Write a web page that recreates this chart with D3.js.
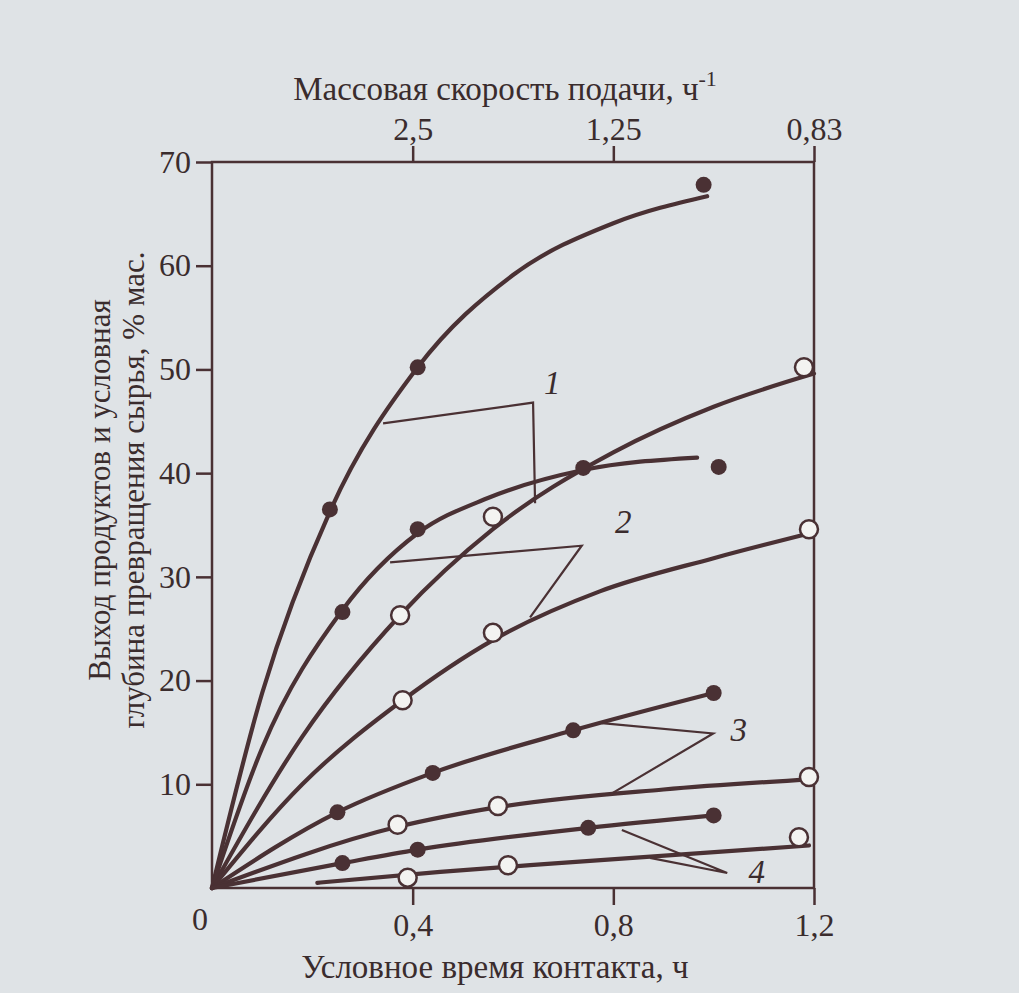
<!DOCTYPE html>
<html>
<head>
<meta charset="utf-8">
<script src="https://cdn.jsdelivr.net/npm/d3@7"></script>
<style>
  body { margin: 0; background: #dfe3e6; }
  svg text { font-family: "Liberation Serif", "DejaVu Serif", serif; fill: #3a2c2d; }
</style>
</head>
<body>
<div id="chart"></div>
<script>
// axis ticks
var timeTicks = [0.4, 0.8, 1.2];
var timeLabels = ["0,4", "0,8", "1,2"];
var speedTicks = [2.5, 1.25, 0.83];
var speedLabels = ["2,5", "1,25", "0,83"];
var yTicks = [10, 20, 30, 40, 50, 60, 70];

// curves, [contact time h, % mass]
var curve1 = [[0,0],[0.1,18.8],[0.235,36.3],[0.41,50.2],[0.6,59.1],[0.8,64.1],[0.987,66.7]];
var curve1open = [[0,0],[0.18,14.6],[0.375,26.3],[0.56,34.6],[0.8,42],[1.0,46.4],[1.2,49.6]];
var curve2 = [[0,0],[0.1,13.5],[0.26,26.8],[0.41,34.2],[0.55,37.6],[0.74,40.3],[0.967,41.5]];
var curve2open = [[0,0],[0.18,10],[0.38,18.1],[0.56,23.9],[0.773,28.6],[1.0,31.8],[1.2,34.3]];
var curve3 = [[0,0],[0.25,7.3],[0.44,11.1],[0.72,15.2],[1.0,18.8]];
var curve3open = [[0,0],[0.37,5.9],[0.57,7.8],[0.9,9.5],[1.2,10.5]];
var curve4 = [[0,0],[0.26,2.4],[0.41,3.7],[0.75,5.8],[1.0,7.0]];
var curve4open = [[0.21,0.5],[0.455,1.55],[0.69,2.4],[1.19,4.1]];

// measured points
var filledPts = [[0.235,36.5],[0.41,50.2],[0.98,67.8],
                 [0.26,26.6],[0.41,34.6],[0.74,40.5],[1.01,40.6],
                 [0.25,7.3],[0.44,11.1],[0.72,15.2],[1.0,18.8],
                 [0.26,2.4],[0.41,3.7],[0.75,5.8],[1.0,7.0]];
var openPts = [[0.375,26.3],[0.56,35.8],[1.18,50.2],
               [0.38,18.1],[0.56,24.6],[1.19,34.6],
               [0.37,6.1],[0.57,7.9],[1.19,10.7],
               [0.39,1.0],[0.59,2.2],[1.17,4.9]];

// curve numbers and their leader lines
var labelNames = ["1", "2", "3", "4"];
var labelPos = [[0.678,47.6],[0.82,34.2],[1.05,14.2],[1.086,0.5]];
var leaders = [
  [[0.341,44.8],[0.64,46.8],[0.644,37.1]],
  [[0.355,31.4],[0.737,33.0],[0.634,26.1]],
  [[0.777,15.9],[0.999,14.9],[0.793,9.0]],
  [[0.817,5.6],[1.027,1.45],[0.873,2.9]]
];

var ink = "#4a3134";
var width = 1019, height = 993;

var svg = d3.select("#chart")
  .append("svg")
    .attr("width", width)
    .attr("height", height);

var x = d3.scaleLinear()
  .domain([0, 1.2])
  .range([212, 814]);

var y = d3.scaleLinear()
  .domain([0, 70])
  .range([888, 162]);

// frame
svg.append("rect")
  .attr("x", x(0))
  .attr("y", y(70))
  .attr("width", x(1.2) - x(0))
  .attr("height", y(0) - y(70))
  .attr("fill", "none")
  .attr("stroke", ink)
  .attr("stroke-width", 2.5);

function styleAxis(g) {
  g.select(".domain").remove();
  g.selectAll("line").attr("stroke", ink).attr("stroke-width", 2.5);
  g.selectAll("text").style("font-size", "32px").attr("fill", "#3a2c2d");
}

// bottom axis
svg.append("g")
  .attr("transform", "translate(0," + y(0) + ")")
  .call(d3.axisBottom(x)
    .tickValues(timeTicks)
    .tickFormat(function(d, i) { return timeLabels[i]; })
    .tickSize(17)
    .tickPadding(8))
  .call(styleAxis);

svg.append("text")
  .attr("x", x(0) - 12)
  .attr("y", y(0) + 42)
  .attr("text-anchor", "middle")
  .style("font-size", "32px")
  .text("0");

// top axis, feed rate = 1 / contact time
svg.append("g")
  .attr("transform", "translate(0," + y(70) + ")")
  .call(d3.axisTop(x)
    .tickValues(speedTicks.map(function(s) { return +(1 / s).toFixed(1); }))
    .tickFormat(function(d, i) { return speedLabels[i]; })
    .tickSize(16)
    .tickPadding(6))
  .call(styleAxis);

// left axis
svg.append("g")
  .attr("transform", "translate(" + x(0) + ",0)")
  .call(d3.axisLeft(y)
    .tickValues(yTicks)
    .tickSize(16)
    .tickPadding(5))
  .call(styleAxis);

// axis titles
var topTitle = svg.append("text")
  .attr("x", 505)
  .attr("y", 100)
  .attr("text-anchor", "middle")
  .style("font-size", "33px");
topTitle.append("tspan").text("Массовая скорость подачи, ч");
topTitle.append("tspan")
  .attr("dy", -14)
  .style("font-size", "22px")
  .text("-1");

svg.append("text")
  .attr("x", 495)
  .attr("y", 978)
  .attr("text-anchor", "middle")
  .style("font-size", "33px")
  .text("Условное время контакта, ч");

var yTitle = svg.append("text")
  .attr("transform", "translate(110,490) rotate(-90)")
  .attr("text-anchor", "middle")
  .style("font-size", "31px");
yTitle.append("tspan").attr("x", 0).attr("dy", 0).text("Выход продуктов и условная");
yTitle.append("tspan").attr("x", 0).attr("dy", 34).text("глубина превращения сырья, % мас.");

// curves
var line = d3.line()
  .x(function(d) { return x(d[0]); })
  .y(function(d) { return y(d[1]); })
  .curve(d3.curveMonotoneX);

var allCurves = [curve1, curve1open, curve2, curve2open, curve3, curve3open, curve4, curve4open];
svg.selectAll(".curve")
  .data(allCurves)
  .enter()
  .append("path")
    .attr("class", "curve")
    .attr("fill", "none")
    .attr("stroke", ink)
    .attr("stroke-width", 4.2)
    .attr("stroke-linecap", "round")
    .attr("d", line);

// leader lines
var straight = d3.line()
  .x(function(d) { return x(d[0]); })
  .y(function(d) { return y(d[1]); });

svg.selectAll(".leader")
  .data(leaders)
  .enter()
  .append("path")
    .attr("class", "leader")
    .attr("fill", "none")
    .attr("stroke", ink)
    .attr("stroke-width", 2.2)
    .attr("d", straight);

svg.selectAll(".num")
  .data(labelNames)
  .enter()
  .append("text")
    .attr("class", "num")
    .attr("x", function(d, i) { return x(labelPos[i][0]); })
    .attr("y", function(d, i) { return y(labelPos[i][1]); })
    .attr("text-anchor", "middle")
    .style("font-size", "33px")
    .style("font-style", "italic")
    .text(function(d) { return d; });

// points
svg.selectAll(".dot")
  .data(filledPts)
  .enter()
  .append("circle")
    .attr("class", "dot")
    .attr("cx", function(d) { return x(d[0]); })
    .attr("cy", function(d) { return y(d[1]); })
    .attr("r", 8)
    .attr("fill", ink);

svg.selectAll(".ring")
  .data(openPts)
  .enter()
  .append("circle")
    .attr("class", "ring")
    .attr("cx", function(d) { return x(d[0]); })
    .attr("cy", function(d) { return y(d[1]); })
    .attr("r", 9)
    .attr("fill", "#f3f3f1")
    .attr("stroke", ink)
    .attr("stroke-width", 2.5);
</script>
</body>
</html>
